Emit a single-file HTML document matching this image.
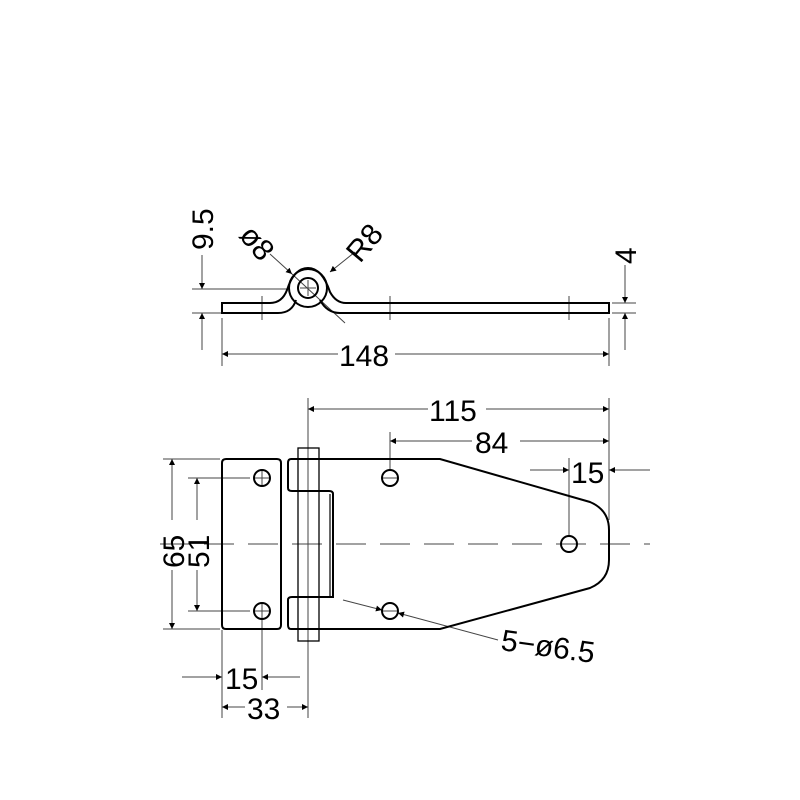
<!DOCTYPE html>
<html><head><style>body{margin:0;background:#fff}svg{display:block}</style></head><body>
<svg width="800" height="800" viewBox="0 0 800 800" xmlns="http://www.w3.org/2000/svg" font-family="Liberation Sans, DejaVu Sans, sans-serif">
<defs>
<marker id="a" viewBox="0 0 10 10" refX="10" refY="5" markerWidth="14" markerHeight="6" orient="auto-start-reverse" markerUnits="userSpaceOnUse"><path d="M0,0 L10,5 L0,10 z" fill="#000"/></marker>
</defs>
<g stroke="#000" fill="none">
<g stroke-width="1" stroke="#444">
<line x1="192" y1="289" x2="290" y2="289"/>
<line x1="192" y1="313" x2="222" y2="313"/>
<line x1="202" y1="255" x2="202" y2="289" marker-end="url(#a)"/>
<line x1="202" y1="350" x2="202" y2="313" marker-end="url(#a)"/>
<line x1="222" y1="318" x2="222" y2="366"/>
<line x1="609" y1="318" x2="609" y2="366"/>
<line x1="222" y1="354" x2="338" y2="354" marker-start="url(#a)"/>
<line x1="395" y1="354" x2="609" y2="354" marker-end="url(#a)"/>
<line x1="612" y1="303" x2="636" y2="303"/>
<line x1="612" y1="313" x2="636" y2="313"/>
<line x1="625" y1="265" x2="625" y2="303" marker-end="url(#a)"/>
<line x1="625" y1="350" x2="625" y2="313" marker-end="url(#a)"/>
<line x1="262" y1="296" x2="262" y2="320"/>
<line x1="390" y1="296" x2="390" y2="320"/>
<line x1="569" y1="296" x2="569" y2="320"/>
<line x1="270" y1="254" x2="292" y2="274" marker-end="url(#a)"/>
<line x1="292" y1="274" x2="345" y2="323"/>
<line x1="355" y1="252" x2="330" y2="272" marker-end="url(#a)"/>
<line x1="300" y1="288" x2="316" y2="288"/><line x1="308" y1="280" x2="308" y2="296"/>
</g>
<g stroke-width="2">
<path d="M320,300 Q327,313 340,313 L609,313 L609,303 L346,303 Q336,303 330,292 Q322,268 308,268 Q294,268 287,290 Q282,303 270,303 L222,303 L222,313 L278,313 Q292,313 296,300"/>
<circle cx="308" cy="288" r="19"/>
<circle cx="308" cy="288" r="10"/>
</g>
<g stroke-width="1" stroke="#444">
<line x1="308" y1="398" x2="308" y2="718"/>
<line x1="609" y1="398" x2="609" y2="520"/>
<line x1="308" y1="409" x2="428" y2="409" marker-start="url(#a)"/>
<line x1="486" y1="409" x2="609" y2="409" marker-end="url(#a)"/>
<line x1="390" y1="432" x2="390" y2="470"/>
<line x1="390" y1="441" x2="472" y2="441" marker-start="url(#a)"/>
<line x1="520" y1="441" x2="609" y2="441" marker-end="url(#a)"/>
<line x1="569" y1="458" x2="569" y2="535"/>
<line x1="530" y1="470" x2="569" y2="470" marker-end="url(#a)"/>
<line x1="650" y1="470" x2="609" y2="470" marker-end="url(#a)"/>
<line x1="163" y1="459" x2="220" y2="459"/>
<line x1="163" y1="629" x2="220" y2="629"/>
<line x1="188" y1="478" x2="250" y2="478"/>
<line x1="188" y1="611" x2="250" y2="611"/>
<line x1="172" y1="459" x2="172" y2="520" marker-start="url(#a)"/>
<line x1="172" y1="570" x2="172" y2="629" marker-end="url(#a)"/>
<line x1="197" y1="478" x2="197" y2="520" marker-start="url(#a)"/>
<line x1="197" y1="570" x2="197" y2="611" marker-end="url(#a)"/>
<line x1="222" y1="630" x2="222" y2="718"/>
<line x1="262" y1="620" x2="262" y2="690"/>
<line x1="182" y1="677" x2="222" y2="677" marker-end="url(#a)"/>
<line x1="300" y1="677" x2="262" y2="677" marker-end="url(#a)"/>
<line x1="222" y1="707" x2="245" y2="707" marker-start="url(#a)"/>
<line x1="287" y1="707" x2="308" y2="707" marker-end="url(#a)"/>
<line x1="160" y1="544" x2="650" y2="544" stroke-dasharray="30,14"/>
<line x1="254" y1="478" x2="270" y2="478"/><line x1="262" y1="470" x2="262" y2="486"/>
<line x1="254" y1="611" x2="270" y2="611"/><line x1="262" y1="603" x2="262" y2="619"/>
<line x1="382" y1="478" x2="398" y2="478"/>
<line x1="382" y1="611" x2="398" y2="611"/>
<line x1="343" y1="600" x2="382" y2="610" marker-end="url(#a)"/>
<line x1="498" y1="640" x2="398" y2="613" marker-end="url(#a)"/>
</g>
<g stroke-width="2">
<path d="M226,459 L277,459 Q281,459 281,463 L281,625 Q281,629 277,629 L226,629 Q222,629 222,625 L222,463 Q222,459 226,459 Z"/>
<path d="M291,459 L440,459 L590,502 Q609,510 609,530 L609,560 Q609,580 590,588 L440,629 L291,629 Q288,629 288,625 L288,600 Q288,597 292,597 L333,597 L333,494 Q333,491 329,491 L292,491 Q288,491 288,488 L288,463 Q288,459 291,459 Z"/>
<line x1="330" y1="494" x2="330" y2="597" stroke-width="1.2"/>
<circle cx="262" cy="478" r="8"/><circle cx="262" cy="611" r="8"/>
<circle cx="390" cy="478" r="8"/><circle cx="390" cy="611" r="8"/>
<circle cx="569" cy="544" r="8"/>
</g>
<rect x="298" y="448" width="21" height="193" stroke-width="1.3"/>
</g>
<g font-size="30" fill="#000">
<text x="339" y="366">148</text>
<text x="429" y="421">115</text>
<text x="475" y="453">84</text>
<text x="571" y="483">15</text>
<text x="225" y="689">15</text>
<text x="247" y="719">33</text>
<text x="500" y="650" transform="rotate(8 500 650)">5−ø6.5</text>
<text transform="translate(184,568) rotate(-90)">65</text>
<text transform="translate(209,568) rotate(-90)">51</text>
<text transform="translate(213,250) rotate(-90)">9.5</text>
<text transform="translate(636,264) rotate(-90)">4</text>
<text transform="translate(238,236) rotate(50)">ø8</text>
<text transform="translate(360,264) rotate(-50)">R8</text>
</g>
</svg>
</body></html>
